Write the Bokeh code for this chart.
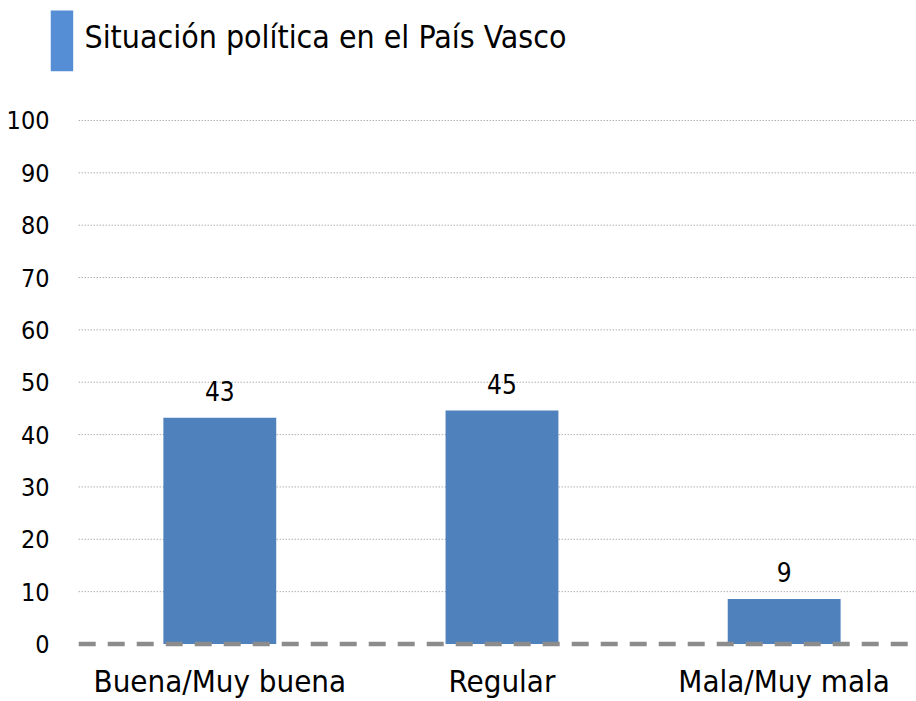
from bokeh.plotting import figure
from bokeh.models import Range1d, FixedTicker, ColumnDataSource, Label, BoxAnnotation
from bokeh.embed import file_html
from bokeh.resources import INLINE
from bokeh.core.properties import value

# ---- data ----
title_text = "Situación política en el País Vasco"
categories = ["Buena/Muy buena", "Regular", "Mala/Muy mala"]
values = [43.2, 44.6, 8.6]
value_labels = ["43", "45", "9"]
y_ticks = [0, 10, 20, 30, 40, 50, 60, 70, 80, 90, 100]

FONT = "DejaVu Sans Condensed"
BAR_COLOR = "#4F81BD"
GRID_COLOR = "#8C8C8C"

X_START, X_END = -0.600, 2.469
xs = list(range(len(categories)))
src = ColumnDataSource(data=dict(x=xs, top=values, lab=value_labels))
grid_src = ColumnDataSource(data=dict(y=y_ticks[1:]))
base_src = ColumnDataSource(data=dict(y=y_ticks[:1]))

p = figure(width=916, height=701, output_backend="svg", toolbar_location=None,
           x_range=Range1d(X_START, X_END), y_range=Range1d(-1.05, 122.92),
           min_border_left=50, min_border_right=0, min_border_top=0, min_border_bottom=52)
p.outline_line_color = None
p.grid.visible = False

# header: blue marker and title (screen units, relative to the plot frame)
p.add_layout(BoxAnnotation(left=0, right=22.7, top=639, bottom=578.3,
                           left_units="screen", right_units="screen",
                           top_units="screen", bottom_units="screen",
                           fill_color="#558ED5", fill_alpha=1.0, line_color=None))
p.add_layout(Label(x=34, y=613, x_units="screen", y_units="screen", text=title_text,
                   text_font=FONT, text_font_size="31.8px", text_color="#000000",
                   text_baseline="alphabetic", text_align="left"))

# dotted gridlines (drawn as segments so they start where the reference's do)
p.segment(x0=-0.5, x1=X_END, y0="y", y1="y", source=grid_src,
          line_color=GRID_COLOR, line_width=1, line_dash="1 2")

p.vbar(x="x", top="top", bottom=0, width=0.4, source=src, fill_color=BAR_COLOR, line_color=None)
p.text(x="x", y="top", text="lab", source=src, text_font=value(FONT), text_font_size="26px",
       text_align="center", text_baseline="alphabetic", y_offset=-27, text_color="#000000")

# dashed baseline on top of bars
p.segment(x0=-0.5, x1=2.45, y0="y", y1="y", source=base_src,
          line_color=GRID_COLOR, line_width=4.5, line_dash="17 12")

# y axis
p.yaxis.ticker = FixedTicker(ticks=y_ticks)
p.yaxis.axis_line_color = None
p.yaxis.major_tick_line_color = None
p.yaxis.minor_tick_line_color = None
p.yaxis.major_tick_out = 0
p.yaxis.major_tick_in = 0
p.yaxis.major_label_standoff = 1
p.yaxis.major_label_text_font = FONT
p.yaxis.major_label_text_font_size = "25px"
p.yaxis.major_label_text_color = "#000000"

# x axis
p.xaxis.ticker = FixedTicker(ticks=xs)
p.xaxis.major_label_overrides = {i: c for i, c in enumerate(categories)}
p.xaxis.axis_line_color = None
p.xaxis.major_tick_line_color = None
p.xaxis.minor_tick_line_color = None
p.xaxis.major_tick_out = 0
p.xaxis.major_tick_in = 0
p.xaxis.major_label_standoff = 13
p.xaxis.major_label_text_font = FONT
p.xaxis.major_label_text_font_size = "31px"
p.xaxis.major_label_text_color = "#000000"

open("out.html", "w").write(file_html(p, INLINE))
